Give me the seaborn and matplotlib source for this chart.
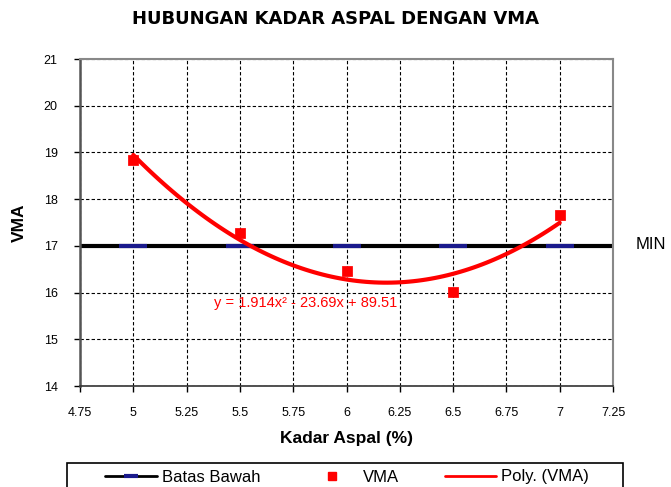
import numpy as np
import pandas as pd
import matplotlib
matplotlib.use("Agg")
import matplotlib.pyplot as plt
import seaborn as sns
from matplotlib.lines import Line2D
from matplotlib.patches import Rectangle

sns.set_style("white")
plt.rcParams['font.family'] = ['Liberation Sans', 'DejaVu Sans']
plt.rcParams['text.color'] = 'black'
plt.rcParams['axes.labelcolor'] = 'black'

kadar_aspal = [5.0, 5.5, 6.0, 6.5, 7.0]
vma = [18.84, 17.28, 16.46, 16.01, 17.66]
batas_bawah = [17, 17, 17, 17, 17]
x_ticks = [4.75, 5, 5.25, 5.5, 5.75, 6, 6.25, 6.5, 6.75, 7, 7.25]
x_tick_labels = ["4.75", "5", "5.25", "5.5", "5.75", "6", "6.25", "6.5", "6.75", "7", "7.25"]
y_ticks = [14, 15, 16, 17, 18, 19, 20, 21]

df = pd.DataFrame({"Kadar": kadar_aspal, "VMA": vma, "Batas": batas_bawah})

W, H = 671, 487
fig = plt.figure(figsize=(W / 100, H / 100), dpi=100)
ax = fig.add_axes([80 / W, 1 - 386 / H, 533 / W, 327 / H])

ax.set_xlim(4.75, 7.25)
ax.set_ylim(14, 21)
ax.set_xticks(x_ticks)
ax.set_xticklabels(x_tick_labels)
ax.set_yticks(y_ticks)

ax.grid(True, color="black", linestyle=(0, (3, 2)), linewidth=0.8)
ax.set_axisbelow(True)

# Batas bawah line
ax.axhline(17, color="black", linewidth=3, zorder=2)
sns.lineplot(data=df, x="Kadar", y="Batas", ax=ax, color="black", linewidth=0,
             marker="_", markersize=20, markeredgewidth=3,
             markeredgecolor="#1a1a8c", zorder=3)

# VMA polynomial fit
sns.regplot(data=df, x="Kadar", y="VMA", order=2, ci=None, ax=ax, scatter=False,
            line_kws=dict(color="red", linewidth=3, zorder=4))
sns.scatterplot(data=df, x="Kadar", y="VMA", ax=ax, marker="s", s=45,
                color="red", edgecolor="red", zorder=5)

ax.text(5.81, 15.78, "y = 1.914x² - 23.69x + 89.51", color="red",
        fontsize=10.5, ha="center", va="center", zorder=6)

fig.text(636 / W, 1 - 245 / H, "MIN", fontsize=12, va="center", ha="left",
         color="black")

for s in ["top", "right"]:
    ax.spines[s].set_color("#888888")
    ax.spines[s].set_linewidth(1.5)
ax.spines["left"].set_color("#555555")
ax.spines["left"].set_linewidth(1.8)
ax.spines["bottom"].set_color("#333333")
ax.spines["bottom"].set_linewidth(1.2)

ax.tick_params(axis="both", direction="out", length=4, width=1, labelsize=9,
               colors="black", bottom=True, left=True)
ax.tick_params(axis="x", pad=11)
ax.tick_params(axis="y", pad=12)

ax.set_xlabel("Kadar Aspal (%)", fontsize=12.5, fontweight="bold", color="black")
ax.xaxis.set_label_coords(0.5, (386 - 438) / 327)
ax.xaxis.label.set_verticalalignment("center")
ax.set_ylabel("VMA", fontsize=12.5, fontweight="bold", color="black")
ax.yaxis.set_label_coords((19 - 80) / 533, 0.5)
ax.yaxis.label.set_verticalalignment("center")
ax.yaxis.label.set_rotation_mode("anchor")

fig.text(335 / W, 1 - 19 / H, "HUBUNGAN KADAR ASPAL DENGAN VMA", fontsize=13,
         fontweight="bold", ha="center", va="center", family="DejaVu Sans",
         color="black")

# legend frame (cut off at bottom like the reference)
fig.patches.append(Rectangle((67 / W, -0.05), 556 / W, (1 - 463 / H) + 0.05,
                             transform=fig.transFigure, fill=False,
                             edgecolor="black", linewidth=1.2))

handles = [
    Line2D([0], [0], color="black", linewidth=2, marker="_", markersize=10,
           markeredgewidth=3, markeredgecolor="#1a1a8c"),
    Line2D([0], [0], color="red", linewidth=0, marker="s", markersize=6),
    Line2D([0], [0], color="red", linewidth=2),
]
leg = fig.legend(handles, ["Batas Bawah", "VMA", "Poly. (VMA)"], ncol=3,
                 loc="center left", bbox_to_anchor=(105 / W, 1 - 477 / H),
                 frameon=False, fontsize=12, handlelength=3.1,
                 handletextpad=0.3, columnspacing=2.75, borderpad=0,
                 borderaxespad=0)
for t in leg.get_texts():
    t.set_color("black")

fig.savefig("out.png", dpi=100)
